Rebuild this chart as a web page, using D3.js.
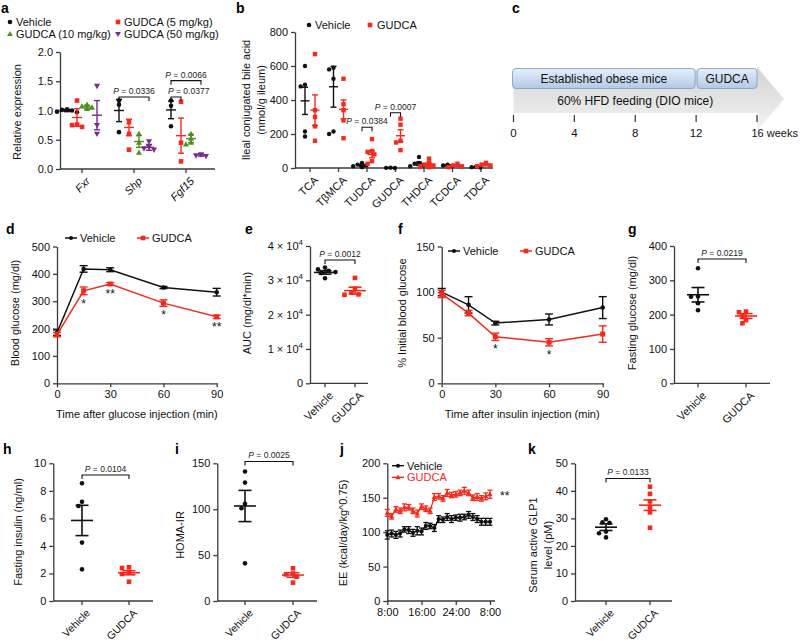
<!DOCTYPE html>
<html><head><meta charset="utf-8">
<script src="https://cdn.jsdelivr.net/npm/d3@7"></script>
<style>
body{margin:0;background:#fff}
svg text{font-family:"Liberation Sans",Arial,Helvetica,sans-serif;}
</style></head><body>
<svg id="fig" width="800" height="643"></svg>
<script>
// ================= DATA =================
// panel a
const aGenes = ["Fxr", "Shp", "Fgf15"];
const aGroupNames = ["Vehicle", "GUDCA (5 mg/kg)", "GUDCA (10 mg/kg)", "GUDCA (50 mg/kg)"];
const aVehPts = [[1.02, 1.0, 0.98, 0.97, 1.01], [1.17, 1.1, 0.63], [1.17, 1.08, 0.73]];
const aG5Pts  = [[1.17, 0.76, 0.72, 0.75], [0.8, 0.6, 0.33], [1.15, 0.45, 0.13]];
const aG10Pts = [[1.1, 1.07, 1.05, 1.03], [0.6, 0.45, 0.28], [0.6, 0.52, 0.45, 0.42]];
const aG50Pts = [[1.42, 0.75, 0.6], [0.47, 0.38, 0.35, 0.33], [0.25, 0.23, 0.22]];
const aMeans = [[1.0, 1.0, 1.01], [0.88, 0.71, 0.57], [1.06, 0.47, 0.52], [0.92, 0.37, 0.24]];
const aSems  = [[0.02, 0.19, 0.15], [0.15, 0.14, 0.3], [0.03, 0.1, 0.07], [0.25, 0.05, 0.02]];
const aTicks = [0, 0.5, 1.0, 1.5, 2.0];
const aBrackets = [
  {gene: "Shp", from: 0, to: 3, y: 1.23, p: "0.0336", align: "middle"},
  {gene: "Fgf15", from: 0, to: 1, y: 1.23, p: "0.0377", align: "start"},
  {gene: "Fgf15", from: 0, to: 3, y: 1.51, p: "0.0066", align: "middle"}
];

// panel b
const bCats = ["TCA", "TβMCA", "TUDCA", "GUDCA", "THDCA", "TCDCA", "TDCA"];
const bVehPts = [[600, 490, 480, 215, 185], [590, 580, 525, 215, 200], [30, 20, 15, 10, 5], [2, 1, 0], [65, 30, 25, 15, 10], [20, 15, 10], [8, 5, 3]];
const bVehMean = [395, 478, 15, 1, 25, 15, 5];
const bVehSem = [80, 120, 6, 1, 10, 3, 2];
const bGudPts = [[670, 340, 300, 245, 160], [525, 375, 340, 280, 175], [170, 100, 95, 80, 40, 25], [290, 255, 160, 150, 105], [55, 30, 20, 15, 10, 5], [25, 15, 10, 5], [30, 20, 15, 10]];
const bGudMean = [340, 345, 80, 190, 20, 15, 18];
const bGudSem = [90, 55, 20, 35, 8, 5, 6];
const bTicks = [0, 200, 400, 600, 800];
const bBrackets = [{cat: "TUDCA", y: 240, p: "0.0384"}, {cat: "GUDCA", y: 325, p: "0.0007"}];

// panel c
const cWeeks = [0, 4, 8, 12, 16];
const cPhases = [{label: "Established obese mice", from: 0, to: 12}, {label: "GUDCA", from: 12, to: 16}];
const cFeeding = "60% HFD feeding (DIO mice)";

// panel d (GTT)
const dTime = [0, 15, 30, 60, 90];
const dVeh = [185, 418, 415, 350, 333];
const dVehErr = [10, 12, 7, 4, 14];
const dGud = [178, 338, 363, 293, 243];
const dGudErr = [8, 14, 5, 12, 6];
const dStars = ["", "*", "**", "*", "**"];

// panel e (AUC)
const eVeh = [33700, 33200, 32800, 32400, 32100, 30600];
const eGud = [30700, 27600, 26400, 25800, 25900];
const eMean = [32300, 27000];
const eSem = [500, 1000];
const eTicks = [0, 10000, 20000, 30000, 40000];

// panel f (ITT)
const fTime = [0, 15, 30, 60, 90];
const fVeh = [100, 86, 66, 70, 83];
const fVehErr = [4, 9, 2, 6, 12];
const fGud = [98, 77, 51, 45, 54];
const fGudErr = [4, 3, 4, 4, 9];
const fStars = ["", "", "*", "*", ""];

// panel g fasting glucose
const gVeh = [335, 253, 252, 233, 213];
const gGud = [209, 207, 197, 184, 175];
const gMean = [258, 196];
const gSem = [21, 7];

// panel h fasting insulin
const hVeh = [8.55, 7.2, 6.9, 4.24, 2.3];
const hGud = [2.45, 2.4, 2.1, 1.96, 1.4];
const hMean = [5.85, 2.05];
const hSem = [1.1, 0.15];

// panel i HOMA-IR
const iVeh = [141, 129, 106, 101, 41];
const iGud = [35.6, 30, 29, 26.5, 20];
const iMean = [103.5, 28.3];
const iSem = [17, 2.5];

// panel j energy expenditure
const jHours = [0,1,2,3,4,5,6,7,8,9,10,11,12,13,14,15,16,17,18,19,20,21,22,23,24];
const jVeh = [96,98,96,98,104,103,99,102,101,109,109,106,119,118,122,119,121,121,122,125,122,119,115,115,115];
const jVehErr = [6,5,5,5,4,5,5,6,5,5,4,5,5,4,5,5,4,5,4,5,5,5,5,5,5];
const jGud = [128,123,133,131,136,136,131,127,137,134,131,151,152,149,157,154,155,157,160,157,150,151,149,152,155];
const jGudErr = [5,4,4,4,5,4,4,5,4,4,4,5,4,4,5,4,4,4,5,4,4,5,4,5,6];
const jTickHours = [0, 8, 16, 24];
const jTickLabels = ["8:00", "16:00", "24:00", "8:00"];

// panel k GLP1
const kVeh = [29.7, 28.6, 28.4, 25.2, 24.6, 23.1];
const kGud = [41.5, 38.9, 36.2, 33.9, 32.2, 26.6];
const kMean = [26.8, 34.8];
const kSem = [1.2, 1.9];

const twoGroups = ["Vehicle", "GUDCA"];

// ================= STYLE =================
const RED = "#f52a1c", BLACK = "#111", GREEN = "#4f8f22", PURPLE = "#7a2b8b", AX = "#3a3a3a";
const FONT = '"Liberation Sans",Arial,Helvetica,sans-serif';
const svg = d3.select("#fig");
const defs = svg.append("defs");

function txt(x, y, s, o = {}) {
  const t = svg.append("text").attr("x", x).attr("y", y).text(s)
    .attr("font-size", o.size || 11).attr("fill", o.fill || "#111");
  if (o.anchor) t.attr("text-anchor", o.anchor);
  if (o.weight) t.attr("font-weight", o.weight);
  if (o.italic) t.attr("font-style", "italic");
  return t;
}
function panelLabel(s, x, y) { txt(x, y + 1, s, {size: 14, weight: "bold", fill: "#000"}); }
function ytitle(xc, yc, s) {
  svg.append("text").attr("transform", `translate(${xc + 4},${yc}) rotate(-90)`)
    .attr("text-anchor", "middle").attr("font-size", 11).attr("fill", "#111").text(s);
}
function styleAxis(g) {
  g.attr("font-family", FONT);
  g.select(".domain").attr("stroke", AX).attr("stroke-width", 1.3);
  g.selectAll(".tick line").attr("stroke", AX).attr("stroke-width", 1.3);
  g.selectAll(".tick text").attr("font-size", 11).attr("fill", "#111").attr("font-family", FONT);
}
function yAxis(y, x0, ticks, fmt) {
  const g = svg.append("g").attr("transform", `translate(${x0},0)`)
    .call(d3.axisLeft(y).tickValues(ticks).tickSize(4).tickSizeOuter(0).tickPadding(3).tickFormat(fmt || (d => d)));
  styleAxis(g); return g;
}
function xAxisLin(x, y0, ticks, fmt) {
  const g = svg.append("g").attr("transform", `translate(0,${y0})`)
    .call(d3.axisBottom(x).tickValues(ticks).tickSize(4).tickSizeOuter(0).tickPadding(3).tickFormat(fmt || (d => d)));
  styleAxis(g); return g;
}
function catAxis(x, y0, xStart, xEnd, italic, size) {
  svg.append("line").attr("x1", xStart).attr("x2", xEnd).attr("y1", y0).attr("y2", y0)
    .attr("stroke", AX).attr("stroke-width", 1.3);
  x.domain().forEach(c => {
    const cx = x(c);
    svg.append("line").attr("x1", cx).attr("x2", cx).attr("y1", y0).attr("y2", y0 + 4)
      .attr("stroke", AX).attr("stroke-width", 1.3);
    const t = svg.append("text").attr("transform", `translate(${cx + 5},${y0 + 9}) rotate(-45)`)
      .attr("text-anchor", "end").attr("dy", "0.5em").attr("font-size", size || 11).attr("fill", "#111").text(c);
    if (italic) t.attr("font-style", "italic");
  });
}
function marker(shape, x, y, color, s) {
  if (shape === "circle") svg.append("circle").attr("cx", x).attr("cy", y).attr("r", s / 2).attr("fill", color);
  else if (shape === "square") svg.append("rect").attr("x", x - s / 2).attr("y", y - s / 2).attr("width", s).attr("height", s).attr("fill", color);
  else if (shape === "tri") svg.append("path").attr("d", `M${x},${y - s * 0.62}L${x + s * 0.58},${y + s * 0.42}L${x - s * 0.58},${y + s * 0.42}Z`).attr("fill", color);
  else if (shape === "trid") svg.append("path").attr("d", `M${x},${y + s * 0.62}L${x + s * 0.58},${y - s * 0.42}L${x - s * 0.58},${y - s * 0.42}Z`).attr("fill", color);
}
function hline(x1, x2, y, color, w) { svg.append("line").attr("x1", x1).attr("x2", x2).attr("y1", y).attr("y2", y).attr("stroke", color).attr("stroke-width", w || 1.4); }
function vline(x, y1, y2, color, w) { svg.append("line").attr("x1", x).attr("x2", x).attr("y1", y1).attr("y2", y2).attr("stroke", color).attr("stroke-width", w || 1.4); }

function drawGroup(cx, y, vals, mean, sem, color, shape, o) {
  const placed = [];
  const pts = vals.map(v => ({py: y(v)})).sort((a, b) => a.py - b.py);
  pts.forEach(p => {
    const offs = [0];
    for (let k = 1; k < 8; k++) offs.push(-k * o.dx, k * o.dx);
    for (const of of offs) {
      if (placed.every(q => Math.hypot(q.px - (cx + of), q.py - p.py) >= o.minD)) { p.px = cx + of; break; }
    }
    if (p.px === undefined) p.px = cx;
    placed.push(p);
  });
  placed.forEach(p => marker(shape, p.px, p.py, color, o.size));
  const ym = y(mean), yt = y(mean + sem), yb = y(Math.max(mean - sem, 0));
  hline(cx - o.mw / 2, cx + o.mw / 2, ym, color, o.lw || 1.5);
  vline(cx, yt, yb, color, o.lw || 1.5);
  hline(cx - o.cw / 2, cx + o.cw / 2, yt, color, o.lw || 1.5);
  hline(cx - o.cw / 2, cx + o.cw / 2, yb, color, o.lw || 1.5);
}
function bracket(x1, x2, yy, p, align) {
  svg.append("path").attr("d", `M${x1},${yy + 4}V${yy}H${x2}V${yy + 4}`).attr("fill", "none").attr("stroke", "#111").attr("stroke-width", 1.1);
  const tx = align === "start" ? x1 - 3 : (x1 + x2) / 2;
  const t = svg.append("text").attr("x", tx).attr("y", yy - 3).attr("text-anchor", align || "middle").attr("font-size", 8.5).attr("fill", "#222");
  t.append("tspan").attr("font-style", "italic").text("P");
  t.append("tspan").text(" = " + p);
}

// ================= PANEL A =================
panelLabel("a", 1, 12);
{
  const y = d3.scaleLinear().domain([0, 2]).range([169, 52]);
  yAxis(y, 60, aTicks, d3.format(".1f"));
  const x = d3.scalePoint().domain(aGenes).range([82, 186]);
  catAxis(x, 169, 60, 215, true);
  const off = [-15, -5, 5, 15];
  const groups = [
    {pts: aVehPts, color: BLACK, shape: "circle", s: 4.6},
    {pts: aG5Pts, color: RED, shape: "square", s: 4.6},
    {pts: aG10Pts, color: GREEN, shape: "tri", s: 5.2},
    {pts: aG50Pts, color: PURPLE, shape: "trid", s: 5.2}
  ];
  groups.forEach((g, gi) => aGenes.forEach((gene, k) => {
    drawGroup(x(gene) + off[gi], y, g.pts[k], aMeans[gi][k], aSems[gi][k], g.color, g.shape,
      {dx: 2.5, minD: 4, size: g.s, mw: 10, cw: 6, lw: 1.4});
  }));
  aBrackets.forEach(b => bracket(x(b.gene) + off[b.from], x(b.gene) + off[b.to], y(b.y), b.p, b.align));
  ytitle(17, 112, "Relative expression");
  // legend
  const leg = [
    {n: aGroupNames[0], c: BLACK, s: "circle", x: 10, y: 22, sz: 4.6},
    {n: aGroupNames[1], c: RED, s: "square", x: 118, y: 22, sz: 4.6},
    {n: aGroupNames[2], c: GREEN, s: "tri", x: 10, y: 34, sz: 5},
    {n: aGroupNames[3], c: PURPLE, s: "trid", x: 118, y: 34, sz: 5}
  ];
  leg.forEach(l => { marker(l.s, l.x, l.y, l.c, l.sz); txt(l.x + 6, l.y + 4, l.n); });
}

// ================= PANEL B =================
panelLabel("b", 236, 12);
{
  const y = d3.scaleLinear().domain([0, 800]).range([168, 32]);
  yAxis(y, 295, bTicks);
  const x = d3.scalePoint().domain(bCats).range([310, 481]);
  catAxis(x, 168, 295, 493, false);
  bCats.forEach((c, k) => {
    drawGroup(x(c) - 5, y, bVehPts[k], bVehMean[k], bVehSem[k], BLACK, "circle", {dx: 2.2, minD: 3.6, size: 4.4, mw: 9, cw: 6, lw: 1.4});
    drawGroup(x(c) + 5, y, bGudPts[k], bGudMean[k], bGudSem[k], RED, "square", {dx: 2.2, minD: 3.6, size: 4.4, mw: 9, cw: 6, lw: 1.4});
  });
  bBrackets.forEach(b => bracket(x(b.cat) - 5, x(b.cat) + 5, y(b.y), b.p));
  ytitle(246, 100, "Ileal conjugated bile acid");
  ytitle(261, 100, "(nmol/g ileum)");
  marker("circle", 309, 25, BLACK, 4.6); txt(315, 29, "Vehicle");
  marker("square", 370, 25, RED, 4.6); txt(377, 29, "GUDCA");
}

// ================= PANEL C =================
panelLabel("c", 512, 12);
{
  const x = d3.scaleLinear().domain([0, 16]).range([513.5, 757]);
  const gg = defs.append("linearGradient").attr("id", "grayg").attr("x1", 0).attr("x2", 0).attr("y1", 0).attr("y2", 1);
  gg.append("stop").attr("offset", "0%").attr("stop-color", "#d4d4d4");
  gg.append("stop").attr("offset", "100%").attr("stop-color", "#f3f3f3");
  const bg = defs.append("linearGradient").attr("id", "blueg").attr("x1", 0).attr("x2", 0).attr("y1", 0).attr("y2", 1);
  bg.append("stop").attr("offset", "0%").attr("stop-color", "#e6eefa");
  bg.append("stop").attr("offset", "100%").attr("stop-color", "#b3c8e8");
  const x0 = x(0), x16 = x(16);
  svg.append("path").attr("d", `M${x0},70H${x16}V67L${x16 + 27},99L${x16},131V113H${x0}Z`).attr("fill", "url(#grayg)");
  cPhases.forEach((p, i) => {
    const xa = x(p.from) + (i ? 1 : -1), xb = x(p.to) - (i ? 0 : 1);
    svg.append("rect").attr("x", xa).attr("y", 68.5).attr("width", xb - xa).attr("height", 20).attr("rx", 3.5)
      .attr("fill", "url(#blueg)").attr("stroke", "#86a0c8").attr("stroke-width", 0.9);
    txt((xa + xb) / 2, 83, p.label, {size: 12, anchor: "middle"});
  });
  txt(x(8), 105, cFeeding, {size: 12, anchor: "middle"});
  cWeeks.forEach(w => {
    vline(x(w), 115, 122, "#333", 1.2);
    if (w === 16) txt(x(w) - 5.5, 137, w + " weeks", {size: 11});
    else txt(x(w), 137, w, {size: 11.5, anchor: "middle"});
  });
}

// ================= LINE PANELS (d, f) =================
function linePanel(o) {
  const x = d3.scaleLinear().domain([0, 90]).range([o.x0, o.x1]);
  const y = d3.scaleLinear().domain(o.ydom).range([383.3, 246.5]);
  yAxis(y, o.x0, o.yticks);
  xAxisLin(x, 383.3, [0, 30, 60, 90]);
  const series = [
    {v: o.veh, e: o.vehErr, c: BLACK, s: "circle", sz: 4.6},
    {v: o.gud, e: o.gudErr, c: RED, s: "square", sz: 5}
  ];
  series.forEach(se => {
    const line = d3.line().x((d, i) => x(o.time[i])).y(d => y(d));
    svg.append("path").attr("d", line(se.v)).attr("fill", "none").attr("stroke", se.c).attr("stroke-width", 1.5);
    se.v.forEach((v, i) => {
      const cx = x(o.time[i]);
      vline(cx, y(v + se.e[i]), y(v - se.e[i]), se.c, 1.4);
      hline(cx - 4, cx + 4, y(v + se.e[i]), se.c, 1.4);
      hline(cx - 4, cx + 4, y(v - se.e[i]), se.c, 1.4);
      marker(se.s, cx, y(v), se.c, se.sz);
    });
  });
  o.stars.forEach((s, i) => { if (s) txt(x(o.time[i]), y(o.gud[i] - o.gudErr[i]) + 13, s, {size: 12, anchor: "middle"}); });
  // legend
  hline(o.leg[0], o.leg[0] + 12, o.legY, BLACK, 1.5); marker("circle", o.leg[0] + 6, o.legY, BLACK, 4.2);
  txt(o.leg[0] + 15, o.legY + 4, "Vehicle");
  hline(o.leg[1], o.leg[1] + 12, o.legY, RED, 1.5); marker("square", o.leg[1] + 6, o.legY, RED, 4.6);
  txt(o.leg[1] + 15, o.legY + 4, "GUDCA");
  txt((o.x0 + o.x1) / 2, 418, o.xtitle, {anchor: "middle"});
  ytitle(o.ytX, 313, o.ytitle);
}
panelLabel("d", 6, 233);
linePanel({x0: 57, x1: 216.7, ydom: [0, 500], yticks: [0, 100, 200, 300, 400, 500], time: dTime,
  veh: dVeh, vehErr: dVehErr, gud: dGud, gudErr: dGudErr, stars: dStars, leg: [65, 137], legY: 238,
  xtitle: "Time after glucose injection (min)", ytitle: "Blood glucose (mg/dl)", ytX: 15});
panelLabel("f", 398, 233);
linePanel({x0: 441.7, x1: 602.7, ydom: [0, 150], yticks: [0, 50, 100, 150], time: fTime,
  veh: fVeh, vehErr: fVehErr, gud: fGud, gudErr: fGudErr, stars: fStars, leg: [448, 520], legY: 251,
  xtitle: "Time after insulin injection (min)", ytitle: "% Initial blood glucose", ytX: 402});

// ================= TWO-GROUP SCATTER PANELS =================
function twoPanel(o) {
  const y = d3.scaleLinear().domain(o.ydom).range([o.yb, o.yt]);
  const ya = yAxis(y, o.x0, o.yticks, o.fmt);
  if (o.sci) {
    ya.selectAll(".tick text").each(function(d) {
      const t = d3.select(this); t.text(null);
      if (d === 0) { t.text("0"); return; }
      t.append("tspan").text((d / 10000) + " × 10");
      t.append("tspan").attr("dy", -5).attr("font-size", 8).text("4");
    });
  }
  const x = d3.scalePoint().domain(twoGroups).range(o.cx);
  catAxis(x, o.yb, o.x0, o.x1, false, o.lsize);
  drawGroup(x("Vehicle"), y, o.veh, o.mean[0], o.sem[0], BLACK, "circle", {dx: 3.5, minD: 4.6, size: 4.6, mw: 22, cw: 13, lw: 1.6});
  drawGroup(x("GUDCA"), y, o.gud, o.mean[1], o.sem[1], RED, "square", {dx: 3.5, minD: 4.6, size: 4.6, mw: 22, cw: 13, lw: 1.6});
  bracket(x("Vehicle"), x("GUDCA"), y(o.br), o.p);
  o.titles.forEach((t, i) => ytitle(o.tx[i], o.ty, t));
}
panelLabel("e", 245, 233);
twoPanel({x0: 310, x1: 368, yb: 383.3, yt: 246, ydom: [0, 40000], yticks: eTicks, sci: true,
  cx: [325, 355], veh: eVeh, gud: eGud, mean: eMean, sem: eSem, br: 35900, p: "0.0012",
  titles: ["AUC (mg/dl*min)"], tx: [247], ty: 313});
panelLabel("g", 628, 233);
twoPanel({x0: 674, x1: 770, yb: 383.3, yt: 246, ydom: [0, 400], yticks: [0, 100, 200, 300, 400],
  cx: [698, 746], veh: gVeh, gud: gGud, mean: gMean, sem: gSem, br: 362, p: "0.0219",
  titles: ["Fasting glucose (mg/dl)"], tx: [632], ty: 313});
panelLabel("h", 3, 453);
twoPanel({x0: 53.3, x1: 153, yb: 601, yt: 463.3, ydom: [0, 10], yticks: [0, 2, 4, 6, 8, 10], lsize: 10.5,
  cx: [82, 129], veh: hVeh, gud: hGud, mean: hMean, sem: hSem, br: 9.15, p: "0.0104",
  titles: ["Fasting insulin (ng/ml)"], tx: [18], ty: 532});
panelLabel("i", 175, 453);
twoPanel({x0: 217.3, x1: 317, yb: 601, yt: 463.3, ydom: [0, 150], yticks: [0, 50, 100, 150], lsize: 10.5,
  cx: [245, 293], veh: iVeh, gud: iGud, mean: iMean, sem: iSem, br: 152, p: "0.0025",
  titles: ["HOMA-IR"], tx: [180], ty: 535});
panelLabel("k", 528, 453);
twoPanel({x0: 575, x1: 672, yb: 601, yt: 463.3, ydom: [0, 50], yticks: [0, 10, 20, 30, 40, 50], lsize: 10.5,
  cx: [606, 650], veh: kVeh, gud: kGud, mean: kMean, sem: kSem, br: 44.5, p: "0.0133",
  titles: ["Serum active GLP1", "level (pM)"], tx: [533, 548], ty: 545});

// ================= PANEL J =================
panelLabel("j", 340, 453);
{
  const x = d3.scaleLinear().domain([0, 24]).range([387.3, 490]);
  const y = d3.scaleLinear().domain([0, 200]).range([601, 463.3]);
  yAxis(y, 387.3, [0, 50, 100, 150, 200]);
  const xg = xAxisLin(x, 601, jTickHours, (d, i) => jTickLabels[i]);
  xg.select(".domain").attr("d", `M${387.3},0H${495}`);
  const series = [
    {v: jVeh, e: jVehErr, c: BLACK, s: "circle", sz: 4.2},
    {v: jGud, e: jGudErr, c: RED, s: "tri", sz: 4.6}
  ];
  series.forEach(se => {
    const line = d3.line().x((d, i) => x(jHours[i])).y(d => y(d));
    svg.append("path").attr("d", line(se.v)).attr("fill", "none").attr("stroke", se.c).attr("stroke-width", 1.3);
    se.v.forEach((v, i) => {
      const cx = x(jHours[i]);
      vline(cx, y(v + se.e[i]), y(v - se.e[i]), se.c, 1.3);
      hline(cx - 2.5, cx + 2.5, y(v + se.e[i]), se.c, 1.3);
      hline(cx - 2.5, cx + 2.5, y(v - se.e[i]), se.c, 1.3);
      marker(se.s, cx, y(v), se.c, se.sz);
    });
  });
  txt(500, 500, "**", {size: 12});
  hline(392, 404, 465.7, BLACK, 1.4); marker("circle", 398, 465.7, BLACK, 4);
  txt(407, 469.7, "Vehicle");
  hline(392, 404, 477.3, RED, 1.4); marker("tri", 398, 477.3, RED, 4.4);
  txt(407, 481.3, "GUDCA", {fill: RED});
  ytitle(343, 533, "EE (kcal/day/kg^0.75)");
}
</script>
</body></html>
